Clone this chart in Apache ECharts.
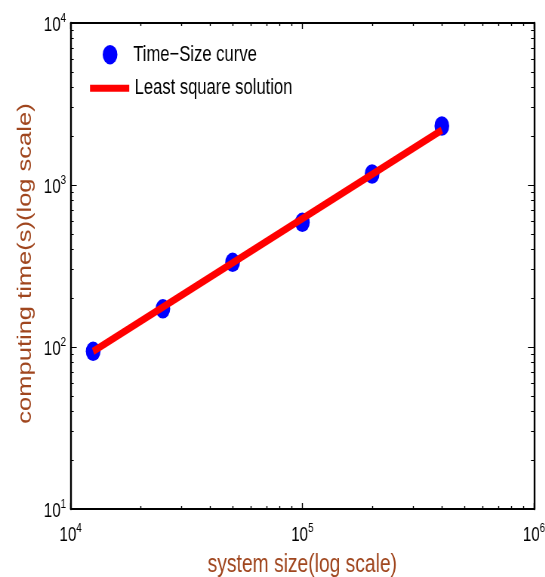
<!DOCTYPE html>
<html>
<head>
<meta charset="utf-8">
<script src="https://cdn.jsdelivr.net/npm/echarts@6/dist/echarts.min.js"></script>
<style>
html,body{margin:0;padding:0;background:#fff;overflow:hidden;width:545px;height:577px;}
#wrap{width:545px;height:577px;overflow:hidden;position:relative;}
/* the reference figure is horizontally compressed; draw wide and squeeze */
#chart{width:722px;height:577px;transform:scaleX(0.755);transform-origin:0 0;position:absolute;left:0;top:0;}
</style>
</head>
<body>
<div id="wrap"><div id="chart"></div></div>
<script>
// ---- data ----
const sizes = [12500, 25000, 50000, 100000, 200000, 400000];
const times = [94, 172, 333, 588, 1169, 2313];
const fitSizes = [12500, 400000];
const fitTimes = [94, 2180];
const xMajor = [1e4, 1e5, 1e6];
const xMinor = [2e4, 3e4, 4e4, 5e4, 6e4, 7e4, 8e4, 9e4, 2e5, 3e5, 4e5, 5e5, 6e5, 7e5, 8e5, 9e5];
const yMajor = [10, 100, 1000, 10000];
const yMinor = [20, 30, 40, 50, 60, 70, 80, 90, 200, 300, 400, 500, 600, 700, 800, 900, 2000, 3000, 4000, 5000, 6000, 7000, 8000, 9000];
const seriesNames = ['Time\u2212Size curve', 'Least square solution'];
const xTitle = 'system size(log scale)';
const yTitle = 'computing time(s)(log scale)';

const FONT = "'Liberation Sans', Arial, Helvetica, sans-serif";
const BROWN = '#a0461e';

const gridBox = {left: 93.6, top: 23, width: 613.7, height: 486, containLabel: false, outerBoundsMode: 'none'};

function fmt(v) {
  return '{b|10}{s|' + Math.round(Math.log10(v)) + '}';
}
const rich = {
  b: {fontSize: 20, fontFamily: FONT, color: '#000', lineHeight: 26},
  s: {fontSize: 13, fontFamily: FONT, color: '#000', lineHeight: 13, verticalAlign: 'top'}
};

function axisBase(extra) {
  return Object.assign({
    type: 'log', logBase: 10,
    axisLabel: {show: false},
    splitLine: {show: false},
    minorTick: {show: false},
    minorSplitLine: {show: false}
  }, extra);
}
function ticks(vals, len, w) {
  return {show: true, inside: true, length: len, customValues: vals, lineStyle: {color: '#000', width: w}};
}

const chart = echarts.init(document.getElementById('chart'), null, {renderer: 'canvas'});
chart.setOption({
  backgroundColor: '#fff',
  animation: false,
  grid: [
    Object.assign({}, gridBox),
    Object.assign({}, gridBox)
  ],
  legend: [
    {
      data: [seriesNames[0]],
      left: 136, top: 43.7, padding: 0,
      icon: 'circle', itemWidth: 19.5, itemHeight: 19.5,
      selectedMode: false,
      textStyle: {fontSize: 22, fontFamily: FONT, color: '#000', lineHeight: 22, padding: [0, 0, 0, 16]}
    },
    {
      data: [seriesNames[1]],
      left: 119.2, top: 77.3, padding: 0,
      icon: 'rect', itemWidth: 52, itemHeight: 7,
      selectedMode: false,
      textStyle: {fontSize: 22, fontFamily: FONT, color: '#000', lineHeight: 22, padding: [0, 0, 0, 2]}
    }
  ],
  xAxis: [
    axisBase({
      gridIndex: 0, position: 'bottom', min: 1e4, max: 1e6,
      axisLine: {show: true, lineStyle: {color: '#000', width: 1.8}},
      axisTick: ticks(xMajor, 6, 1.4),
      axisLabel: {show: true, customValues: xMajor, formatter: fmt, rich: rich, margin: 13,
        fontSize: 20, fontFamily: FONT, color: '#000'},
      name: xTitle, nameLocation: 'middle', nameGap: 43,
      nameTextStyle: {fontSize: 25.5, fontFamily: FONT, color: BROWN, lineHeight: 26}
    }),
    axisBase({
      gridIndex: 0, position: 'top', min: 1e4, max: 1e6,
      axisLine: {show: true, lineStyle: {color: '#000', width: 1.8}},
      axisTick: ticks(xMajor, 6, 1.4)
    }),
    axisBase({
      gridIndex: 1, position: 'bottom', min: 1e4, max: 1e6,
      axisLine: {show: false},
      axisTick: ticks(xMinor, 3, 1.4)
    }),
    axisBase({
      gridIndex: 1, position: 'top', min: 1e4, max: 1e6,
      axisLine: {show: false},
      axisTick: ticks(xMinor, 3, 1.4)
    })
  ],
  yAxis: [
    axisBase({
      gridIndex: 0, position: 'left', min: 10, max: 10000,
      axisLine: {show: true, lineStyle: {color: '#000', width: 2.4}},
      axisTick: ticks(yMajor, 8, 1),
      axisLabel: {show: true, customValues: yMajor, formatter: fmt, rich: rich, margin: 6, padding: [4, 0, 0, 0],
        fontSize: 20, fontFamily: FONT, color: '#000'},
      name: yTitle, nameLocation: 'middle', nameGap: 42,
      nameTextStyle: {fontSize: 25.5, fontFamily: FONT, color: BROWN, lineHeight: 26, padding: [0, 0, 0, 5]}
    }),
    axisBase({
      gridIndex: 0, position: 'right', min: 10, max: 10000,
      axisLine: {show: true, lineStyle: {color: '#000', width: 2.4}},
      axisTick: ticks(yMajor, 8, 1)
    }),
    axisBase({
      gridIndex: 1, position: 'left', min: 10, max: 10000,
      axisLine: {show: false},
      axisTick: ticks(yMinor, 4, 1)
    }),
    axisBase({
      gridIndex: 1, position: 'right', min: 10, max: 10000,
      axisLine: {show: false},
      axisTick: ticks(yMinor, 4, 1)
    })
  ],
  series: [
    {
      name: seriesNames[0],
      type: 'scatter',
      xAxisIndex: 0, yAxisIndex: 0,
      symbol: 'circle',
      symbolSize: 19.5,
      itemStyle: {color: '#0000ff', opacity: 1},
      data: sizes.map((s, i) => [s, times[i]]),
      z: 2
    },
    {
      name: seriesNames[1],
      type: 'line',
      xAxisIndex: 0, yAxisIndex: 0,
      showSymbol: false, symbol: 'none',
      lineStyle: {color: '#ff0000', width: 7.5, cap: 'butt'},
      itemStyle: {color: '#ff0000'},
      data: fitSizes.map((s, i) => [s, fitTimes[i]]),
      z: 3
    }
  ]
});
</script>
</body>
</html>
